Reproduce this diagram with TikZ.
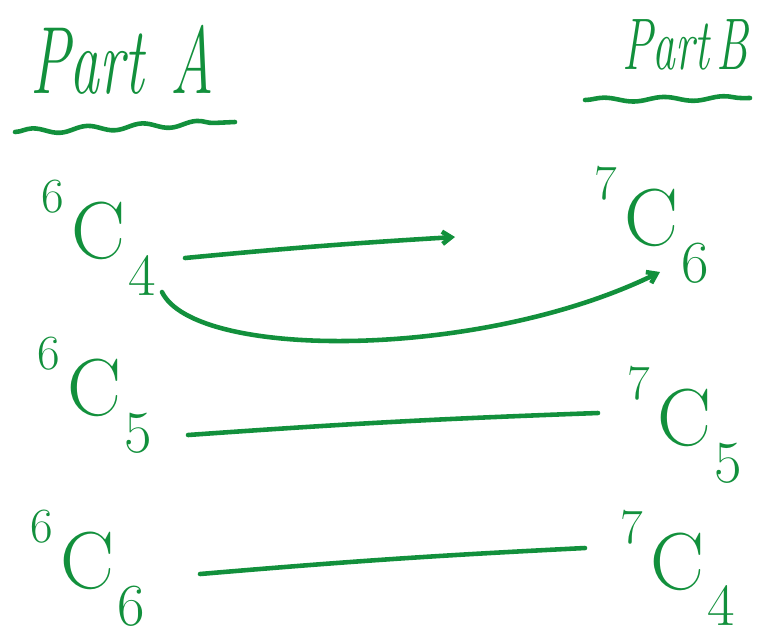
\documentclass[tikz,border=0pt]{standalone}
\usepackage{tikz}
\usetikzlibrary{arrows.meta, positioning, calc, decorations.pathmorphing}
\definecolor{ink}{HTML}{12903C}
% combination term: upper index, C, lower index
\newcommand{\nCr}[2]{\raisebox{26pt}{\fontsize{28}{30}\selectfont #1}\hspace{4pt}C\hspace{2pt}\raisebox{-21pt}{\fontsize{34}{36}\selectfont #2}}

\begin{document}
\begin{tikzpicture}[x=0.02cm, y=-0.02cm,
  link/.style={ink, line width=2.6pt, line cap=round},
  wave/.style={link, decorate, decoration={snake, amplitude=1.6pt, segment length=1.1cm}},
  term/.style={ink, inner sep=0pt, font=\fontsize{46}{50}\selectfont},
  head/.style={ink, inner sep=0pt, font=\itshape\fontsize{34}{40}\selectfont}]
  \useasboundingbox (0,0) rectangle (766,640);
  % Headings
  \node[head] (partA) at (122,60) {\scalebox{1}[1.6]{Part\hspace{0.45em}A}};
  \node[head, font=\itshape\fontsize{26}{30}\selectfont] (partB) at (685,45)
    {\scalebox{1}[1.6]{Part\hspace{0.15em}B}};
  \draw[wave] (15,132) -- (235,122);
  \draw[wave, decoration={snake, amplitude=1.2pt, segment length=1.2cm}] (585,100) -- (750,98);
  % Terms
  \node[term] (c64) at (99,238) {\nCr{6}{4}};
  \node[term] (c65) at (95,395) {\nCr{6}{5}};
  \node[term] (c66) at (88,568) {\nCr{6}{6}};
  \node[term] (c76) at (652,225) {\nCr{7}{6}};
  \node[term] (c75) at (685,425) {\nCr{7}{5}};
  \node[term] (c74) at (678,568) {\nCr{7}{4}};
  % Line ends
  \coordinate (s1) at (185,258);
  \coordinate (e1) at (455,237);
  \coordinate (s2) at (162,292);
  \coordinate (e2) at (660,272);
  \coordinate (s3) at (188,435);
  \coordinate (e3) at (598,413);
  \coordinate (s4) at (200,574);
  \coordinate (e4) at (585,548);
  % Pairings
  \draw[link, -{Straight Barb[length=5pt, width=7pt]}] (s1) to[bend left=1] (e1);
  \draw[link, -{Straight Barb[length=5pt, width=7pt]}] (s2)
    .. controls (195,360) and (480,360) .. (e2);
  \draw[link] (s3) to[bend left=1] (e3);
  \draw[link] (s4) to[bend left=1] (e4);
\end{tikzpicture}
\end{document}
